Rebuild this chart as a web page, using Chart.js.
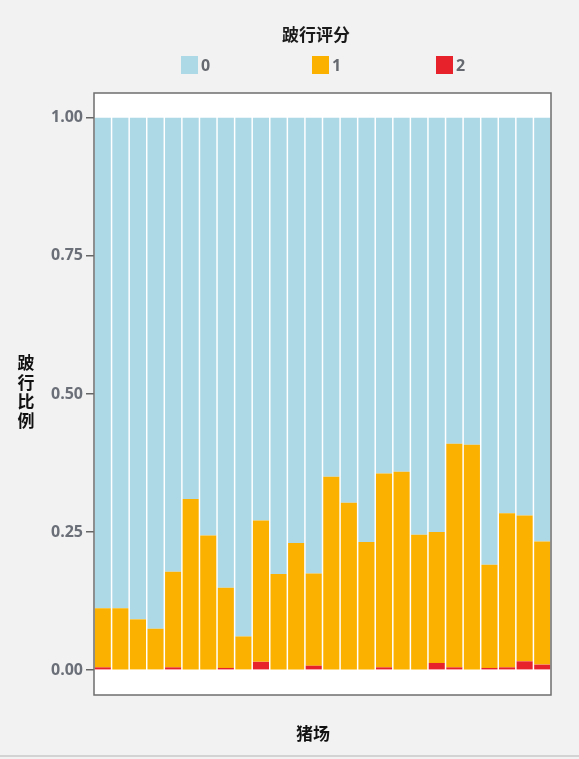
<!DOCTYPE html>
<html>
<head>
<meta charset="utf-8">
<script src="https://cdn.jsdelivr.net/npm/chart.js@4.4.1/dist/chart.umd.min.js"></script>
<style>
  html, body { margin: 0; padding: 0; background: #f2f2f2; }
  canvas { display: block; }
</style>
</head>
<body>
<canvas id="c" width="579" height="759"></canvas>
<script>
"use strict";
/* 100% stacked bars: lameness score share per pig farm.
   Stack order bottom -> top is score 2, 1, 0; legend reads 0, 1, 2. */
const farms = ["1", "2", "3", "4", "5", "6", "7", "8", "9", "10", "11", "12", "13",
               "14", "15", "16", "17", "18", "19", "20", "21", "22", "23", "24", "25", "26"];
const score0 = [0.888, 0.888, 0.908, 0.925, 0.822, 0.690, 0.756, 0.851, 0.939, 0.729, 0.826, 0.770, 0.825,
                0.650, 0.697, 0.768, 0.644, 0.641, 0.755, 0.750, 0.590, 0.592, 0.809, 0.716, 0.720, 0.767];
const score1 = [0.107, 0.112, 0.092, 0.075, 0.173, 0.310, 0.244, 0.145, 0.061, 0.256, 0.174, 0.230, 0.167,
                0.350, 0.303, 0.232, 0.351, 0.359, 0.245, 0.237, 0.405, 0.408, 0.187, 0.279, 0.264, 0.223];
const score2 = [0.005, 0, 0, 0, 0.005, 0, 0, 0.004, 0, 0.015, 0, 0, 0.008,
                0, 0, 0, 0.005, 0, 0, 0.013, 0.005, 0, 0.004, 0.005, 0.016, 0.010];
const scoreNames = ["0", "1", "2"];
const yTicks = [0, 0.25, 0.5, 0.75, 1];
const legendTitle = "跛行评分";
const xTitle = "猪场";
const yTitle = "跛行比例";

const colors = { "0": "#add8e6", "1": "#fbb100", "2": "#e8222b" };
const cjk = "'Noto Sans CJK SC', 'Noto Sans', sans-serif";
const num = "'Open Sans', 'Noto Sans', sans-serif";

// white panel, frame, titles and the legend row (laid out like the original figure)
const decor = {
  id: "decor",
  beforeDatasetsDraw(chart) {
    const { ctx, chartArea: a } = chart;
    ctx.save();
    ctx.fillStyle = "#ffffff";
    ctx.fillRect(a.left, a.top, a.right - a.left, a.bottom - a.top);
    ctx.restore();
  },
  afterDraw(chart) {
    const { ctx, chartArea: a } = chart;
    ctx.save();
    ctx.strokeStyle = "#6e6e6e"; ctx.lineWidth = 1.5;
    ctx.strokeRect(a.left, a.top, a.right - a.left, a.bottom - a.top);

    // legend title + items
    const cx = 316;
    ctx.fillStyle = "#1a1a1a"; ctx.textAlign = "center"; ctx.textBaseline = "middle";
    ctx.font = "bold 17px " + cjk;
    ctx.fillText(legendTitle, cx, 35);
    const offs = [-135, -4, 120];
    ctx.font = "bold 16px " + num; ctx.textAlign = "left";
    scoreNames.forEach((n, i) => {
      const x = cx + offs[i];
      ctx.fillStyle = colors[n];
      ctx.fillRect(x, 56, 17, 18);
      ctx.fillStyle = "#666a70";
      ctx.fillText(n, x + 20, 66);
    });

    // y title: upright characters stacked vertically
    ctx.fillStyle = "#111"; ctx.textAlign = "center"; ctx.font = "bold 17px " + cjk;
    [...yTitle].forEach((ch, i) => ctx.fillText(ch, 26, 363 + i * 19.2));

    // x title
    ctx.fillText(xTitle, 313, 734);

    // window edge line at the bottom
    ctx.strokeStyle = "#c8c8c8"; ctx.lineWidth = 1.5;
    ctx.beginPath(); ctx.moveTo(0, 756); ctx.lineTo(579, 756); ctx.stroke();
    ctx.restore();
  }
};

const bar = (label, data) => ({
  label, data, backgroundColor: colors[label], borderWidth: 0,
  categoryPercentage: 1, barPercentage: 0.915
});

new Chart(document.getElementById("c"), {
  type: "bar",
  data: {
    labels: farms,
    datasets: [bar("2", score2), bar("1", score1), bar("0", score0)]
  },
  options: {
    responsive: false,
    animation: false,
    layout: { padding: { top: 93, right: 28, left: 0, bottom: 0 } },
    plugins: { legend: { display: false }, title: { display: false }, tooltip: { enabled: false } },
    scales: {
      x: {
        stacked: true, offset: true,
        grid: { display: false }, border: { display: false },
        ticks: { display: false },
        afterFit: (s) => { s.height = 64; }
      },
      y: {
        stacked: true, min: -0.045, max: 1.045,
        afterBuildTicks: (s) => { s.ticks = yTicks.map((v) => ({ value: v })); },
        afterFit: (s) => { s.width = 94; },
        border: { display: false },
        grid: { drawOnChartArea: false, drawTicks: true, tickLength: 8, color: "#666", lineWidth: 1.5 },
        ticks: {
          padding: 3, color: "#6b6f78",
          font: { family: num, size: 16, weight: "bold" },
          callback: (v) => Number(v).toFixed(2)
        }
      }
    }
  },
  plugins: [decor]
});
</script>
</body>
</html>
